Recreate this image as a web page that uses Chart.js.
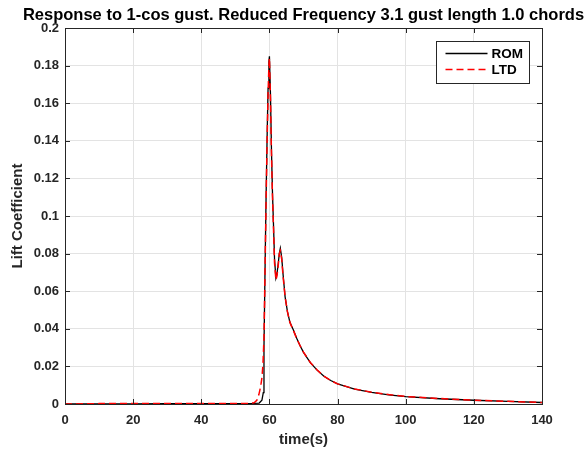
<!doctype html>
<html lang="en">
<head>
  <meta charset="UTF-8">
  <title>Response to 1-cos gust</title>
  <script src="https://cdn.jsdelivr.net/npm/chart.js@4.4.0/dist/chart.umd.min.js"></script>
  <style>
      html, body {
          margin: 0;
          padding: 0;
          background: #fff;
      }
      .container {
          width: 585px;
          height: 457px;
      }
  </style>
</head>
<body>

<div class="container">
  <canvas id="myChart" width="585" height="457"></canvas>
</div>

<script>
  const chartTitle = 'Response to 1-cos gust. Reduced Frequency 3.1 gust length 1.0 chords'

  // ROM response
  const romTime = [0, 10, 20, 30, 40, 50, 55, 57, 57.8, 58.2, 58.4, 58.7,
    59.0, 59.3, 59.6, 59.85, 60.0, 60.3, 60.6, 60.9, 61.2, 61.5, 61.9,
    62.2, 62.6, 62.9, 63.2, 63.6, 64.0, 64.6, 65.3, 66.0, 66.5, 67.0,
    68, 69, 70, 72, 74, 76, 78, 80, 85, 90, 95, 100, 110, 120, 130, 140]
  const romLift = [0, 0.0001, 0.0001, 0.0002, 0.0002, 0.0002, 0.0003, 0.0005, 0.002, 0.006, 0.03, 0.07,
    0.108, 0.14, 0.168, 0.182, 0.185, 0.165, 0.135, 0.112, 0.095, 0.077, 0.067,
    0.069, 0.075, 0.080, 0.0828, 0.078, 0.069, 0.057, 0.049, 0.0436, 0.0415, 0.0395,
    0.035, 0.031, 0.0275, 0.022, 0.018, 0.0148, 0.0125, 0.0107, 0.0079, 0.0062, 0.0049, 0.0039,
    0.0028, 0.002, 0.0014, 0.0008]

  // LTD response
  const ltdTime = [0, 10, 20, 30, 40, 50, 54, 55.5, 56.3, 56.9, 57.4, 57.8, 58.1, 58.4, 58.7,
    59.0, 59.3, 59.6, 59.85, 60.0, 60.3, 60.6, 60.9, 61.2, 61.5, 61.9,
    62.2, 62.6, 62.9, 63.2, 63.6, 64.0, 64.6, 65.3, 66.0, 66.5, 67.0,
    68, 69, 70, 72, 74, 76, 78, 80, 85, 90, 95, 100, 110, 120, 130, 140]
  const ltdLift = [0, 0.0002, 0.0003, 0.0003, 0.0003, 0.0003, 0.0003, 0.0006, 0.002, 0.005, 0.009, 0.014, 0.021, 0.035, 0.07,
    0.106, 0.138, 0.165, 0.18, 0.184, 0.163, 0.133, 0.11, 0.093, 0.075, 0.066,
    0.068, 0.074, 0.080, 0.0815, 0.077, 0.068, 0.057, 0.049, 0.0434, 0.0413, 0.0393,
    0.0348, 0.031, 0.0276, 0.0221, 0.0181, 0.0148, 0.0125, 0.0107, 0.008, 0.0063, 0.005, 0.004,
    0.0029, 0.002, 0.0014, 0.0008]

  const xTicks = [0, 20, 40, 60, 80, 100, 120, 140]
  const yTicks = [0, 0.02, 0.04, 0.06, 0.08, 0.1, 0.12, 0.14, 0.16, 0.18, 0.2]

  const axisColor = '#262626'
  const fontFamily = 'Arial, "Liberation Sans", Helvetica, sans-serif'

  const toPoints = (xs, ys) => xs.map((x, i) => ({ x: x, y: ys[i] }))

  // MATLAB style: title over the axes, box with inward ticks, boxed legend
  const matlabBox = {
    id: 'matlabBox',
    afterDatasetsDraw(chart) {
      const { ctx, chartArea: a, scales } = chart
      ctx.save()
      ctx.strokeStyle = axisColor
      ctx.lineWidth = 1
      ctx.beginPath()
      scales.x.ticks.forEach((t, i) => {
        const px = Math.round(scales.x.getPixelForTick(i)) + 0.5
        ctx.moveTo(px, a.bottom); ctx.lineTo(px, a.bottom - 5)
        ctx.moveTo(px, a.top); ctx.lineTo(px, a.top + 5)
      })
      scales.y.ticks.forEach((t, i) => {
        const py = Math.round(scales.y.getPixelForTick(i)) + 0.5
        ctx.moveTo(a.left, py); ctx.lineTo(a.left + 5, py)
        ctx.moveTo(a.right, py); ctx.lineTo(a.right - 5, py)
      })
      ctx.stroke()
      ctx.strokeRect(Math.round(a.left) + 0.5, Math.round(a.top) + 0.5,
        Math.round(a.right - a.left), Math.round(a.bottom - a.top))

      // title
      ctx.fillStyle = '#000'
      ctx.font = 'bold 16.5px ' + fontFamily
      ctx.textAlign = 'center'
      ctx.textBaseline = 'alphabetic'
      ctx.fillText(chartTitle, (a.left + a.right) / 2, a.top - 8)

      // legend
      const w = 93, h = 42
      const lx = Math.round(a.right - 13 - w) + 0.5
      const ly = Math.round(a.top + 13) + 0.5
      ctx.fillStyle = '#fff'
      ctx.fillRect(lx, ly, w, h)
      ctx.strokeStyle = axisColor
      ctx.strokeRect(lx, ly, w, h)
      ctx.font = 'bold 13.5px ' + fontFamily
      ctx.textAlign = 'left'
      ctx.textBaseline = 'middle'
      chart.data.datasets.forEach((ds, i) => {
        const yy = ly + 12 + i * 16
        ctx.strokeStyle = ds.borderColor
        ctx.lineWidth = 1.3
        ctx.setLineDash(ds.borderDash || [])
        ctx.beginPath()
        ctx.moveTo(lx + 9, yy)
        ctx.lineTo(lx + 51, yy)
        ctx.stroke()
        ctx.setLineDash([])
        ctx.fillStyle = '#000'
        ctx.fillText(ds.label, lx + 55, yy + 1)
      })
      ctx.restore()
    }
  }

  const chartDom = document.querySelector('#myChart')

  const chart = new Chart(chartDom, {
    type: 'line',
    data: {
      datasets: [
        {
          label: 'ROM',
          data: toPoints(romTime, romLift),
          borderColor: '#000000',
          borderWidth: 1.3,
          pointRadius: 0,
          tension: 0,
          order: 2
        },
        {
          label: 'LTD',
          data: toPoints(ltdTime, ltdLift),
          borderColor: '#ff0000',
          borderWidth: 1.5,
          borderDash: [7, 4],
          pointRadius: 0,
          tension: 0,
          order: 1
        }
      ]
    },
    options: {
      responsive: false,
      animation: false,
      devicePixelRatio: 1,
      layout: {
        padding: { left: 0, right: 43, top: 28, bottom: 0 }
      },
      plugins: {
        legend: { display: false },
        tooltip: { enabled: false },
        title: { display: false }
      },
      scales: {
        x: {
          type: 'linear',
          min: 0,
          max: 140,
          afterBuildTicks: (scale) => { scale.ticks = xTicks.map(v => ({ value: v })) },
          afterFit: (scale) => { scale.height = 53 },
          ticks: {
            color: axisColor,
            padding: 9,
            maxRotation: 0,
            font: { family: fontFamily, size: 13, weight: 'bold' },
            callback: (v) => String(v)
          },
          grid: { color: '#e3e3e3', drawTicks: false },
          border: { display: false },
          title: {
            display: true,
            text: 'time(s)',
            color: axisColor,
            font: { family: fontFamily, size: 15, weight: 'bold', lineHeight: 1.2 },
            padding: { top: 0, bottom: 8 }
          }
        },
        y: {
          min: 0,
          max: 0.2,
          afterBuildTicks: (scale) => { scale.ticks = yTicks.map(v => ({ value: v })) },
          afterFit: (scale) => { scale.width = 65 },
          ticks: {
            color: axisColor,
            padding: 6,
            font: { family: fontFamily, size: 13, weight: 'bold' },
            callback: (v) => String(+v.toFixed(2))
          },
          grid: { color: '#e3e3e3', drawTicks: false },
          border: { display: false },
          title: {
            display: true,
            text: 'Lift Coefficient',
            color: axisColor,
            font: { family: fontFamily, size: 15, weight: 'bold', lineHeight: 1.2 },
            padding: { top: 9, bottom: 0 }
          }
        }
      }
    },
    plugins: [matlabBox]
  })
</script>

</body>
</html>
